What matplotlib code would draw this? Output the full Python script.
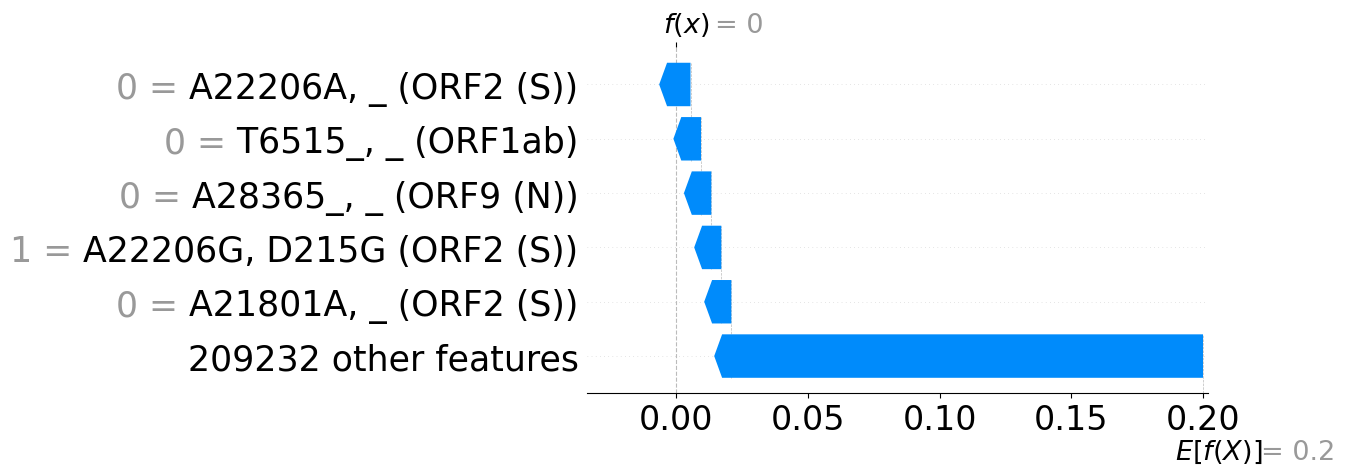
import matplotlib
matplotlib.use("Agg")
import matplotlib.pyplot as plt
import numpy as np
from matplotlib.patches import Polygon

# ── data ─────────────────────────────────────────────────────────────────────
feature_names  = ["A22206A, _ (ORF2 (S))",
                  "T6515_, _ (ORF1ab)",
                  "A28365_, _ (ORF9 (N))",
                  "A22206G, D215G (ORF2 (S))",
                  "A21801A, _ (ORF2 (S))"]
feature_values = [0, 0, 0, 1, 0]
shap_values    = [-0.0054, -0.0040, -0.0039, -0.0038, -0.0038]
n_other        = 209232
other_value    = -0.1791
base_value     = 0.2
xticks         = [0.00, 0.05, 0.10, 0.15, 0.20]

BLUE = "#008bfb"
GRAY = "#999999"
BAR_H     = 0.8
HEAD_LEN  = 0.003
TIP_EXTRA = 0.0065
LABEL_FS  = 25
TICK_FS   = 24
MATH_FS   = 19.5

fx = base_value + sum(shap_values) + other_value

vals   = shap_values + [other_value]          # top -> bottom
n_rows = len(vals)
ys     = np.arange(n_rows)[::-1]              # top row highest

# cumulative starts, from the bottom (base value) upwards
starts = [0.0] * n_rows
loc = base_value
for i in range(n_rows - 1, -1, -1):
    starts[i] = loc
    loc += vals[i]

fig = plt.figure(figsize=(13.45, 4.77), dpi=100)
ax = fig.add_axes([587 / 1345, 1 - 394 / 477, (1208 - 587) / 1345, (394 - 48) / 477])
ax.set_xlim(-0.0339, 0.2019)
ax.set_ylim(-0.68, 5.69)

# ── grid + guide lines ───────────────────────────────────────────────────────
for y in ys:
    ax.axhline(y, color="#cccccc", lw=0.5, dashes=(1, 5), zorder=-1)
ax.axvline(fx, 0, 1, color="#bbbbbb", ls="--", lw=0.8, zorder=-1)
ax.axvline(base_value, 0, 1 / n_rows, color="#bbbbbb", ls="--", lw=0.5, zorder=-1)
for i in range(n_rows - 1):
    ax.plot([starts[i], starts[i]], [ys[i] - 1 - 0.4, ys[i] + 0.4],
            color="#bbbbbb", ls="--", lw=0.5, zorder=-1)

# ── arrows ───────────────────────────────────────────────────────────────────
for i in range(n_rows):
    s = starts[i]
    e = s + vals[i]
    sgn = np.sign(vals[i])
    tip = e + sgn * TIP_EXTRA
    corner = tip - sgn * HEAD_LEN
    y = ys[i]
    pts = [(s, y - BAR_H / 2), (corner, y - BAR_H / 2), (tip, y),
           (corner, y + BAR_H / 2), (s, y + BAR_H / 2)]
    ax.add_patch(Polygon(pts, closed=True, facecolor=BLUE, edgecolor="none", zorder=2))

# ── y labels: black name, gray "value =" in front of it ──────────────────────
ax.set_yticks([])
black_labels = [" " + n for n in feature_names] + [f"{n_other} other features"]
name_txts = []
for y, lab in zip(ys, black_labels):
    t = ax.annotate(lab, xy=(0, y), xycoords=("axes fraction", "data"),
                    xytext=(-8.5, 0), textcoords="offset pixels",
                    ha="right", va="center_baseline", fontsize=LABEL_FS, color="black")
    name_txts.append(t)

fig.canvas.draw()
renderer = fig.canvas.get_renderer()
for t, y, v in zip(name_txts[:-1], ys, feature_values):
    bb = t.get_window_extent(renderer)
    x_fig, _ = fig.transFigure.inverted().transform((bb.x0, 0))
    ax.annotate(f"{v} =", xy=(x_fig, y),
                xycoords=(fig.transFigure, ax.transData),
                xytext=(0, 0), textcoords="offset pixels",
                ha="right", va="center_baseline", fontsize=LABEL_FS, color=GRAY,
                annotation_clip=False)

ax.set_xticks(xticks, labels=[f"{t:.2f}" for t in xticks])
ax.tick_params(axis="x", labelsize=TICK_FS, length=3.5)

for sp in ["left", "top", "right"]:
    ax.spines[sp].set_visible(False)

# ── f(x) tick on top ─────────────────────────────────────────────────────────
ax3 = ax.twiny()
ax3.set_xlim(ax.get_xlim())
ax3.set_xticks([fx], labels=[""])
for sp in ["left", "top", "right", "bottom"]:
    ax3.spines[sp].set_visible(False)

ax.annotate("$f(x)$", xy=(fx, 1), xycoords=("data", "axes fraction"),
            xytext=(-13.5, 15), textcoords="offset pixels",
            ha="left", va="baseline", fontsize=MATH_FS)
ax.annotate(f"= {fx:g}", xy=(fx, 1), xycoords=("data", "axes fraction"),
            xytext=(39, 15), textcoords="offset pixels",
            ha="left", va="baseline", fontsize=MATH_FS, color=GRAY)

ax.annotate("$E[f(X)]$", xy=(base_value, 0), xycoords=("data", "axes fraction"),
            xytext=(-28, -66), textcoords="offset pixels",
            ha="left", va="baseline", fontsize=MATH_FS)
ax.annotate(f"= {base_value:g}", xy=(base_value, 0), xycoords=("data", "axes fraction"),
            xytext=(58, -66), textcoords="offset pixels",
            ha="left", va="baseline", fontsize=MATH_FS, color=GRAY)

fig.savefig("out.png", dpi=100)
